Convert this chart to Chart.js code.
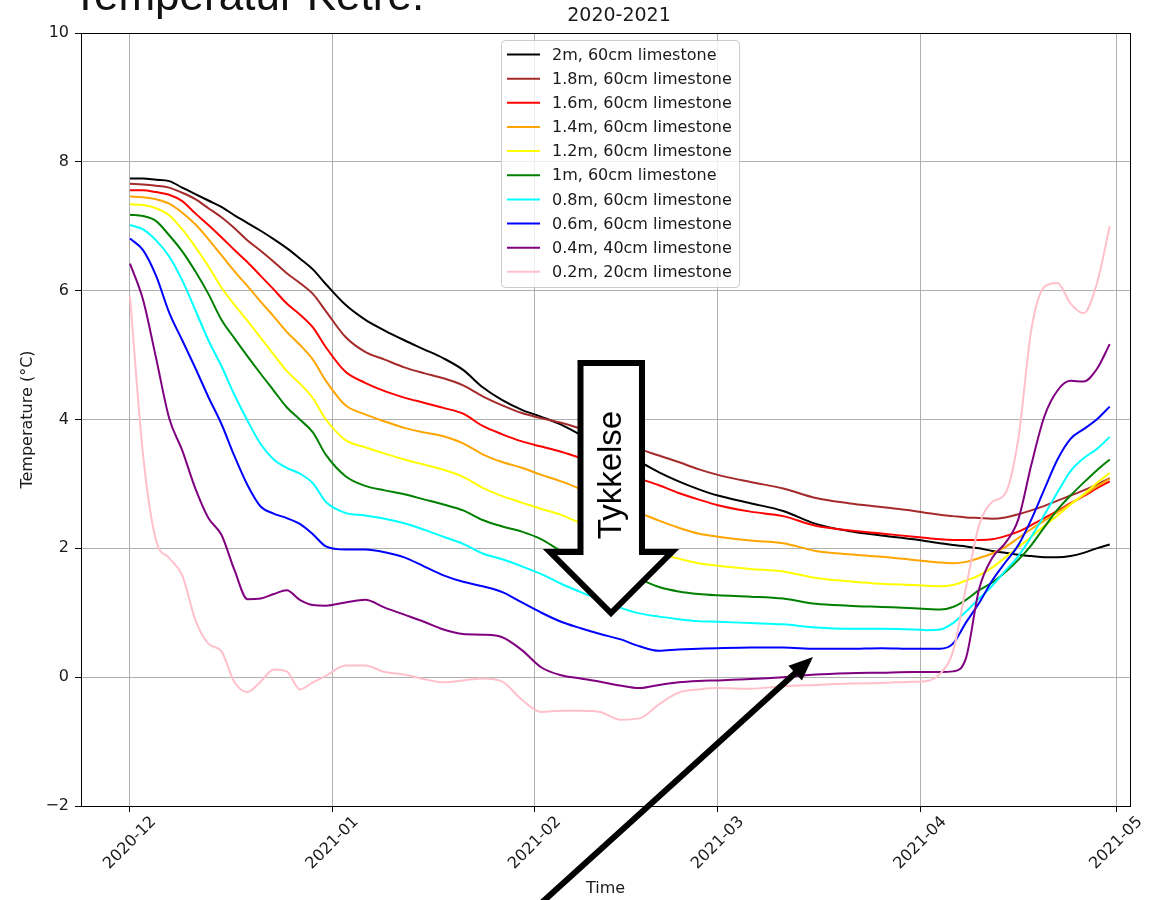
<!DOCTYPE html>
<html>
<head>
<meta charset="utf-8">
<title>Temperatur 2020-2021</title>
<script src="https://cdn.jsdelivr.net/npm/chart.js"></script>
<style>
  html, body { margin: 0; padding: 0; background: #fff; overflow: hidden; }
</style>
</head>
<body>
<canvas id="tempChart" width="1166" height="900"></canvas>
<script>
// day 0 = 2020-12-01
const days = [0, 2, 4, 6, 8, 10, 12, 14, 16, 18, 20, 22, 24, 26, 28, 30,
  33, 36, 39, 42, 45, 48, 51, 54, 57, 60, 63, 66, 69, 72, 75, 78, 81, 84, 87, 90,
  95, 100, 105, 110, 115, 120,
  122, 124, 126, 128, 130, 132, 134, 136, 138, 140, 142, 144, 146, 148, 150];

const monthTicks = [0, 31, 62, 90, 121, 151];
const monthLabels = ["2020-12", "2021-01", "2021-02", "2021-03", "2021-04", "2021-05"];
const yTicks = [-2, 0, 2, 4, 6, 8, 10];

const temp200 = [7.74, 7.74, 7.72, 7.70, 7.60, 7.50, 7.40, 7.30, 7.17, 7.05, 6.93, 6.80, 6.66, 6.50, 6.33, 6.10,
  5.78, 5.55, 5.38, 5.23, 5.09, 4.95, 4.77, 4.50, 4.30, 4.15, 4.04, 3.92, 3.76, 3.60, 3.46, 3.34, 3.18, 3.04, 2.92, 2.82,
  2.70, 2.58, 2.38, 2.27, 2.20, 2.14,
  2.11, 2.08, 2.05, 2.03, 2.00, 1.96, 1.93, 1.90, 1.88, 1.86, 1.86, 1.88, 1.93, 2.00, 2.06];
const temp180 = [7.66, 7.65, 7.63, 7.60, 7.52, 7.42, 7.28, 7.14, 6.97, 6.78, 6.62, 6.45, 6.27, 6.12, 5.95, 5.68,
  5.28, 5.05, 4.93, 4.81, 4.72, 4.64, 4.53, 4.36, 4.22, 4.10, 4.02, 3.95, 3.86, 3.76, 3.65, 3.54, 3.44, 3.34, 3.23, 3.14,
  3.03, 2.93, 2.78, 2.70, 2.64, 2.58,
  2.55, 2.52, 2.50, 2.48, 2.47, 2.46, 2.48, 2.53, 2.59, 2.66, 2.74, 2.82, 2.90, 2.99, 3.09];
const temp160 = [7.56, 7.56, 7.53, 7.49, 7.39, 7.20, 7.02, 6.83, 6.63, 6.44, 6.23, 6.02, 5.80, 5.63, 5.43, 5.12,
  4.74, 4.57, 4.44, 4.34, 4.26, 4.18, 4.09, 3.90, 3.77, 3.66, 3.58, 3.50, 3.40, 3.29, 3.18, 3.08, 2.98, 2.86, 2.76, 2.67,
  2.57, 2.50, 2.35, 2.28, 2.23, 2.18,
  2.16, 2.14, 2.13, 2.13, 2.13, 2.14, 2.19, 2.26, 2.36, 2.47, 2.58, 2.70, 2.81, 2.93, 3.04];
const temp140 = [7.46, 7.45, 7.42, 7.35, 7.21, 7.03, 6.80, 6.55, 6.30, 6.07, 5.83, 5.60, 5.36, 5.16, 4.93, 4.60,
  4.22, 4.08, 3.97, 3.87, 3.80, 3.74, 3.63, 3.46, 3.34, 3.25, 3.14, 3.04, 2.92, 2.79, 2.66, 2.55, 2.43, 2.32, 2.23, 2.18,
  2.12, 2.08, 1.96, 1.91, 1.87, 1.82,
  1.80, 1.78, 1.77, 1.79, 1.85, 1.92, 2.02, 2.16, 2.30, 2.43, 2.56, 2.69, 2.82, 2.96, 3.08];
const temp120 = [7.34, 7.33, 7.28, 7.17, 6.95, 6.68, 6.38, 6.05, 5.78, 5.53, 5.27, 5.01, 4.75, 4.56, 4.33, 4.00,
  3.68, 3.57, 3.47, 3.38, 3.30, 3.22, 3.11, 2.94, 2.81, 2.71, 2.61, 2.52, 2.39, 2.26, 2.13, 2.01, 1.92, 1.84, 1.77, 1.73,
  1.68, 1.64, 1.54, 1.49, 1.45, 1.43,
  1.42, 1.41, 1.43, 1.50, 1.58, 1.70, 1.86, 2.02, 2.18, 2.35, 2.51, 2.68, 2.84, 3.01, 3.17];
const temp100 = [7.18, 7.16, 7.08, 6.86, 6.61, 6.30, 5.95, 5.55, 5.26, 4.98, 4.71, 4.45, 4.19, 4.00, 3.80, 3.45,
  3.12, 2.97, 2.90, 2.84, 2.76, 2.68, 2.59, 2.44, 2.34, 2.26, 2.14, 1.96, 1.84, 1.73, 1.62, 1.52, 1.40, 1.33, 1.29, 1.27,
  1.25, 1.22, 1.14, 1.11, 1.09, 1.07,
  1.06, 1.05, 1.09, 1.20, 1.35, 1.47, 1.63, 1.82, 2.05, 2.33, 2.60, 2.82, 3.02, 3.21, 3.38];
const temp080 = [7.02, 6.95, 6.78, 6.53, 6.16, 5.70, 5.23, 4.83, 4.38, 3.98, 3.62, 3.38, 3.25, 3.16, 3.01, 2.72,
  2.55, 2.51, 2.46, 2.39, 2.29, 2.18, 2.07, 1.92, 1.83, 1.72, 1.60, 1.45, 1.32, 1.20, 1.08, 0.99, 0.94, 0.90, 0.87, 0.86,
  0.84, 0.82, 0.77, 0.75, 0.75, 0.74,
  0.73, 0.74, 0.84, 1.02, 1.22, 1.42, 1.65, 1.88, 2.18, 2.52, 2.87, 3.20, 3.40, 3.54, 3.73];
const temp060 = [6.81, 6.63, 6.23, 5.66, 5.23, 4.80, 4.35, 3.93, 3.43, 2.98, 2.65, 2.54, 2.47, 2.38, 2.22, 2.03,
  1.98, 1.98, 1.94, 1.86, 1.72, 1.58, 1.48, 1.41, 1.32, 1.16, 1.00, 0.86, 0.76, 0.67, 0.59, 0.48, 0.41, 0.43, 0.44, 0.45,
  0.46, 0.46, 0.44, 0.44, 0.45, 0.44,
  0.44, 0.44, 0.52, 0.85, 1.15, 1.50, 1.78, 2.05, 2.45, 2.92, 3.38, 3.70, 3.85, 4.00, 4.20];
const temp040 = [6.42, 5.86, 4.95, 4.02, 3.52, 2.93, 2.47, 2.21, 1.66, 1.21, 1.22, 1.29, 1.35, 1.20, 1.12, 1.11,
  1.16, 1.20, 1.08, 0.97, 0.86, 0.74, 0.67, 0.66, 0.62, 0.42, 0.15, 0.03, -0.02, -0.07, -0.13, -0.17, -0.12, -0.08, -0.06, -0.05,
  -0.03, 0.00, 0.04, 0.06, 0.07, 0.08,
  0.08, 0.08, 0.09, 0.30, 1.37, 1.85, 2.08, 2.45, 3.30, 4.05, 4.45, 4.60, 4.59, 4.78, 5.17];
const temp020 = [5.91, 3.45, 2.12, 1.85, 1.58, 0.89, 0.52, 0.40, -0.08, -0.23, -0.07, 0.12, 0.09, -0.19, -0.08, 0.02,
  0.18, 0.18, 0.08, 0.04, -0.03, -0.08, -0.05, -0.02, -0.07, -0.35, -0.54, -0.52, -0.52, -0.54, -0.66, -0.64, -0.42, -0.24, -0.19, -0.17,
  -0.18, -0.14, -0.12, -0.10, -0.09, -0.07,
  -0.06, 0.05, 0.40, 1.40, 2.36, 2.72, 2.85, 3.70, 5.40, 6.06, 6.12, 5.80, 5.65, 6.10, 7.00];

const seriesLabels = [
  "2m, 60cm limestone",
  "1.8m, 60cm limestone",
  "1.6m, 60cm limestone",
  "1.4m, 60cm limestone",
  "1.2m, 60cm limestone",
  "1m, 60cm limestone",
  "0.8m, 60cm limestone",
  "0.6m, 60cm limestone",
  "0.4m, 40cm limestone",
  "0.2m, 20cm limestone",
];

const MPL_FONT = "'DejaVu Sans', sans-serif";
const TEXT_COLOR = "#1a1a1a";

document.addEventListener("DOMContentLoaded", function () {
  const seriesValues = [temp200, temp180, temp160, temp140, temp120, temp100, temp080, temp060, temp040, temp020];
  const seriesColors = ["#000000", "#a52a2a", "#ff0000", "#ffa500", "#ffff00", "#008000", "#00ffff", "#0000ff", "#800080", "#ffc0cb"];

  const datasets = seriesValues.map((values, i) => ({
    label: seriesLabels[i],
    data: days.map((d, j) => ({ x: d, y: values[j] })),
    borderColor: seriesColors[i],
    backgroundColor: seriesColors[i],
    borderWidth: 2,
    pointRadius: 0,
    fill: false,
    cubicInterpolationMode: "monotone",
    order: seriesValues.length - 1 - i, // later series on top
  }));

  // frame, legend, rotated month labels and the hand-drawn annotations
  const decorations = {
    id: "decorations",
    afterDatasetsDraw(chart) {
      const c = chart.ctx;
      const a = chart.chartArea;
      c.save();
      c.strokeStyle = "#000";
      c.lineWidth = 1;
      c.strokeRect(Math.round(a.left) + 0.5, Math.round(a.top) + 0.5,
        Math.round(a.right - a.left), Math.round(a.bottom - a.top));
      c.restore();
      drawLegend(chart);
    },
    afterDraw(chart) {
      drawMonthLabels(chart);
      drawHeadings(chart);
      drawThicknessArrow(chart.ctx);
      drawPointerArrow(chart.ctx);
    },
  };

  function drawLegend(chart) {
    const c = chart.ctx;
    const x = 501.5, y = 40.5, w = 238, h = 247, r = 4;
    c.save();
    c.beginPath();
    c.moveTo(x + r, y);
    c.arcTo(x + w, y, x + w, y + h, r);
    c.arcTo(x + w, y + h, x, y + h, r);
    c.arcTo(x, y + h, x, y, r);
    c.arcTo(x, y, x + w, y, r);
    c.closePath();
    c.fillStyle = "rgba(255,255,255,0.8)";
    c.fill();
    c.strokeStyle = "#cccccc";
    c.lineWidth = 1;
    c.stroke();

    c.font = "16px " + MPL_FONT;
    c.textBaseline = "middle";
    c.textAlign = "left";
    chart.data.datasets.forEach((ds, i) => {
      const ly = 54.5 + i * 24.15;
      c.beginPath();
      c.moveTo(507, ly);
      c.lineTo(540, ly);
      c.strokeStyle = ds.borderColor;
      c.lineWidth = 2;
      c.stroke();
      c.fillStyle = TEXT_COLOR;
      c.fillText(ds.label, 552, ly + 1);
    });
    c.restore();
  }

  function drawMonthLabels(chart) {
    const c = chart.ctx;
    const xs = chart.scales.x;
    c.save();
    c.font = "16px " + MPL_FONT;
    c.fillStyle = TEXT_COLOR;
    c.textAlign = "center";
    c.textBaseline = "middle";
    monthTicks.forEach((v, i) => {
      c.save();
      c.translate(xs.getPixelForValue(v), 843);
      c.rotate(-Math.PI / 4);
      c.fillText(monthLabels[i], 0, 0);
      c.restore();
    });
    c.restore();
  }

  function drawHeadings(chart) {
    const c = chart.ctx;
    c.save();
    c.fillStyle = TEXT_COLOR;
    c.font = "19px " + MPL_FONT;
    c.textAlign = "center";
    c.textBaseline = "middle";
    c.fillText("2020-2021", 619, 16);

    c.fillStyle = "#111";
    c.font = "44px 'Liberation Sans', Arial, sans-serif";
    c.textAlign = "left";
    c.textBaseline = "alphabetic";
    c.fillText("Temperatur Ketre.", 72, 10);
    c.restore();
  }

  function drawThicknessArrow(c) {
    const pts = [[580.5, 363], [642, 363], [642, 552], [672, 552], [611, 613], [550, 552], [580.5, 552]];
    c.save();
    c.beginPath();
    pts.forEach((p, i) => (i ? c.lineTo(p[0], p[1]) : c.moveTo(p[0], p[1])));
    c.closePath();
    c.fillStyle = "#fff";
    c.fill();
    c.lineJoin = "miter";
    c.miterLimit = 10;
    c.lineWidth = 6;
    c.strokeStyle = "#000";
    c.stroke();

    c.translate(621, 475);
    c.rotate(-Math.PI / 2);
    c.font = "33px 'Liberation Sans', Arial, sans-serif";
    c.fillStyle = "#000";
    c.textAlign = "center";
    c.textBaseline = "alphabetic";
    c.fillText("Tykkelse", 0, 0);
    c.restore();
  }

  function drawPointerArrow(c) {
    const tail = [538, 906];
    const tip = [813, 657];
    const len = Math.hypot(tip[0] - tail[0], tip[1] - tail[1]);
    const ux = (tip[0] - tail[0]) / len, uy = (tip[1] - tail[1]) / len;
    const headLen = 24, headHalf = 10;
    const bx = tip[0] - ux * headLen, by = tip[1] - uy * headLen;
    c.save();
    c.strokeStyle = "#000";
    c.fillStyle = "#000";
    c.lineWidth = 6;
    c.beginPath();
    c.moveTo(tail[0], tail[1]);
    c.lineTo(bx + ux * 2, by + uy * 2);
    c.stroke();
    c.beginPath();
    c.moveTo(tip[0], tip[1]);
    c.lineTo(bx - uy * headHalf, by + ux * headHalf);
    c.lineTo(bx + uy * headHalf, by - ux * headHalf);
    c.closePath();
    c.fill();
    c.restore();
  }

  const gridStyle = { color: "#b0b0b0", lineWidth: 1, tickLength: 6, tickColor: "#000", drawTicks: true };
  const borderStyle = { display: true, color: "#000", width: 1 };

  var ctx = document.getElementById("tempChart").getContext("2d");
  var tempChart = new Chart(ctx, {
    type: "line",
    data: { datasets: datasets },
    options: {
      responsive: false,
      animation: false,
      layout: { padding: { left: 0, right: 36, top: 33, bottom: 0 } },
      plugins: {
        legend: { display: false },
        tooltip: { enabled: false },
      },
      scales: {
        x: {
          type: "linear",
          min: -7.5,
          max: 153.1,
          afterBuildTicks: (scale) => {
            scale.ticks = monthTicks.map((v) => ({ value: v }));
          },
          afterFit: (scale) => {
            scale.height = 94;
          },
          ticks: { display: false },
          grid: gridStyle,
          border: borderStyle,
          title: {
            display: true,
            text: "Time",
            color: TEXT_COLOR,
            font: { family: MPL_FONT, size: 16 },
            padding: { top: 0, bottom: 2 },
          },
        },
        y: {
          type: "linear",
          min: -2,
          max: 10,
          afterBuildTicks: (scale) => {
            scale.ticks = yTicks.map((v) => ({ value: v }));
          },
          afterFit: (scale) => {
            scale.width = 81;
          },
          ticks: {
            color: TEXT_COLOR,
            font: { family: MPL_FONT, size: 16 },
            padding: 6,
            callback: (v) => (v < 0 ? "\u2212" + Math.abs(v) : String(v)),
          },
          grid: gridStyle,
          border: borderStyle,
          title: {
            display: true,
            text: "Temperature (°C)",
            color: TEXT_COLOR,
            font: { family: MPL_FONT, size: 16 },
            padding: { top: 18, bottom: 0 },
          },
        },
      },
    },
    plugins: [decorations],
  });
});
</script>
</body>
</html>
